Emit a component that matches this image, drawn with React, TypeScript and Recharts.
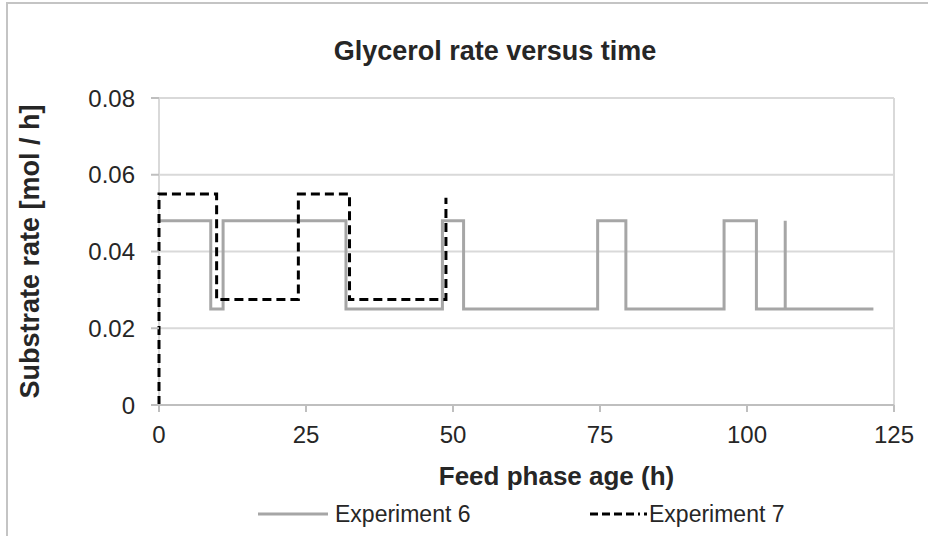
import { LineChart, Line, XAxis, YAxis, CartesianGrid, Label } from "recharts";

const FONT = "'Liberation Sans', Arial, sans-serif";

// Experiment 6: feed phase age (h) and substrate rate (mol/h), step shape
const EXP6_TIME = [0, 8.8, 8.8, 10.9, 10.9, 31.8, 31.8, 48.2, 48.2, 51.8, 51.8, 74.6, 74.6, 79.4, 79.4, 96.1, 96.1, 101.6, 101.6, 106.5, 106.5, 106.5, 121.5];
const EXP6_RATE = [0.048, 0.048, 0.025, 0.025, 0.048, 0.048, 0.025, 0.025, 0.048, 0.048, 0.025, 0.025, 0.048, 0.048, 0.025, 0.025, 0.048, 0.048, 0.025, 0.025, 0.048, 0.025, 0.025];

// Experiment 7
const EXP7_TIME = [0, 0, 9.8, 9.8, 23.7, 23.7, 32.4, 32.4, 48.8, 48.8];
const EXP7_RATE = [0, 0.055, 0.055, 0.0275, 0.0275, 0.055, 0.055, 0.0275, 0.0275, 0.054];

const X_TICKS = [0, 25, 50, 75, 100, 125];
const Y_TICKS = [0, 0.02, 0.04, 0.06, 0.08];
const SERIES_NAMES = ["Experiment 6", "Experiment 7"];

const exp6 = EXP6_TIME.map((t, i) => ({ t, rate: EXP6_RATE[i] }));
const exp7 = EXP7_TIME.map((t, i) => ({ t, rate: EXP7_RATE[i] }));

const GRAY = "#a6a6a6";
const AXIS = "#bfbfbf";
const TEXT = "#262626";

function ChartLegend() {
  return (
    <div style={{ position: "absolute", left: 0, top: 500, width: 928, height: 30, fontFamily: FONT, fontSize: 23, color: TEXT }}>
      <svg width={80} height={10} style={{ position: "absolute", left: 254, top: 9 }}>
        <line x1={4} y1={5} x2={74} y2={5} stroke={GRAY} strokeWidth={3} />
      </svg>
      <span style={{ position: "absolute", left: 335, top: 0, lineHeight: "28px" }}>{SERIES_NAMES[0]}</span>
      <svg width={70} height={10} style={{ position: "absolute", left: 588, top: 9 }}>
        <line x1={2} y1={5} x2={59} y2={5} stroke="#000" strokeWidth={3} strokeDasharray="8 4 8 4 8 4 8 4 2 4" />
      </svg>
      <span style={{ position: "absolute", left: 649, top: 0, lineHeight: "28px" }}>{SERIES_NAMES[1]}</span>
    </div>
  );
}

export default function App() {
  return (
    <div style={{ position: "absolute", left: 0, top: 0, width: 928, height: 536, overflow: "hidden", background: "#fff" }}>
      <div style={{ position: "absolute", left: 6, top: 2, width: 1000, height: 1000, border: "2px solid #c4c4c4" }} />
      <div style={{ position: "absolute", left: 31, top: 36, width: 928, textAlign: "center", fontFamily: FONT, fontWeight: "bold", fontSize: 27, color: TEXT, lineHeight: "31px" }}>
        Glycerol rate versus time
      </div>
      <div style={{ position: "absolute", left: 0, top: 0 }}>
        <LineChart width={928} height={536} margin={{ top: 98, right: 34, bottom: 40, left: 0 }}>
          {/* horizontal grid plus the left axis line and right edge, kept behind the series */}
          <CartesianGrid horizontal stroke="#d9d9d9" strokeWidth={2} verticalValues={[0, 125]} />
          <XAxis
            type="number"
            dataKey="t"
            domain={[0, 125]}
            ticks={X_TICKS}
            height={91}
            stroke={AXIS}
            strokeWidth={2}
            tickSize={7}
            tickMargin={14}
            tick={{ fill: TEXT, fontSize: 24, fontFamily: FONT }}
          >
            <Label value="Feed phase age (h)" position="insideBottom" offset={11} dx={30} style={{ fill: TEXT, fontSize: 26, fontWeight: "bold", fontFamily: FONT }} />
          </XAxis>
          <YAxis
            type="number"
            domain={[0, 0.08]}
            ticks={Y_TICKS}
            width={159}
            axisLine={false}
            tickLine={{ stroke: AXIS, strokeWidth: 2 }}
            tickSize={8}
            tickMargin={16}
            tickFormatter={(v: number) => (v === 0 ? "0" : v.toFixed(2))}
            tick={{ fill: TEXT, fontSize: 24, fontFamily: FONT }}
          >
            <Label value="Substrate rate [mol / h]" angle={-90} position="insideLeft" offset={41} dx={-12} style={{ textAnchor: "middle", fill: TEXT, fontSize: 27, fontWeight: "bold", fontFamily: FONT }} />
          </YAxis>
          <Line data={exp6} dataKey="rate" name={SERIES_NAMES[0]} stroke={GRAY} strokeWidth={3} dot={false} isAnimationActive={false} />
          <Line data={exp7} dataKey="rate" name={SERIES_NAMES[1]} stroke="#000" strokeWidth={3} strokeDasharray="9 5" dot={false} isAnimationActive={false} />
        </LineChart>
      </div>
      <ChartLegend />
    </div>
  );
}
